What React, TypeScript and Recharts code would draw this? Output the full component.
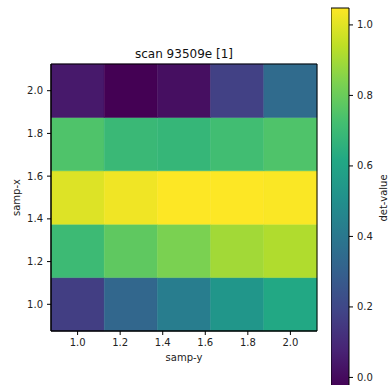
import { ScatterChart, Scatter, XAxis, YAxis, ReferenceArea } from 'recharts';

// cell centres, samp-y across and samp-x up
const sampY = [1.0, 1.25, 1.5, 1.75, 2.0];
const sampX = [1.0, 1.25, 1.5, 1.75, 2.0];
const halfStep = 0.125;

// det-value rows, one per samp-x (bottom to top)
const row100 = [0.164, 0.326, 0.423, 0.531, 0.617];
const row125 = [0.703, 0.779, 0.832, 0.897, 0.919];
const row150 = [0.994, 1.026, 1.048, 1.048, 1.043];
const row175 = [0.746, 0.692, 0.681, 0.714, 0.746];
const row200 = [0.045, -0.03, 0.013, 0.175, 0.347];
const rows = [row100, row125, row150, row175, row200];

const axisTicks = [1.0, 1.2, 1.4, 1.6, 1.8, 2.0];
const barTicks = [0.0, 0.2, 0.4, 0.6, 0.8, 1.0];

const viridis = [
  '#440154', '#482475', '#414487', '#355f8d', '#2a788e', '#21918c',
  '#22a884', '#44bf70', '#7ad151', '#bddf26', '#fde725',
];

const allVals = rows.flat();
const vmin = Math.min(...allVals);
const vmax = Math.max(...allVals);

const hex = (c: string) => [1, 3, 5].map((i) => parseInt(c.slice(i, i + 2), 16));

const colorOf = (v: number) => {
  const t = Math.max(0, Math.min(1, (v - vmin) / (vmax - vmin))) * (viridis.length - 1);
  const i = Math.min(Math.floor(t), viridis.length - 2);
  const f = t - i;
  const a = hex(viridis[i]);
  const b = hex(viridis[i + 1]);
  const m = a.map((c, k) => Math.round(c + (b[k] - c) * f));
  return `rgb(${m[0]},${m[1]},${m[2]})`;
};

const cells = rows.flatMap((row, ri) =>
  row.map((v, ci) => ({ x: sampY[ci], y: sampX[ri], v, color: colorOf(v) }))
);

// gradient runs top (vmax) to bottom (vmin), so the stops go in reverse
const barStops = [...viridis].reverse();

const font = '"DejaVu Sans", sans-serif';
const tickStyle = { fontSize: 10, fill: '#222', fontFamily: font };
const lo = 0.875;
const hi = 2.125;

export default function App() {
  return (
    <div
      style={{
        position: 'absolute',
        left: 0,
        top: 0,
        width: 388,
        height: 385,
        overflow: 'hidden',
        background: '#fff',
        fontFamily: font,
      }}
    >
      <div
        style={{
          position: 'absolute',
          left: 51,
          width: 266,
          top: 46,
          textAlign: 'center',
          fontSize: 12,
          color: '#111',
          lineHeight: '16px',
        }}
      >
        scan 93509e [1]
      </div>

      <div style={{ position: 'absolute', left: 0, top: 0 }}>
        <ScatterChart width={330} height={385} margin={{ top: 64, right: 13, bottom: 24, left: 11 }}>
          <XAxis
            type="number"
            dataKey="x"
            domain={[lo, hi]}
            ticks={axisTicks}
            tickFormatter={(v: number) => v.toFixed(1)}
            allowDataOverflow
            height={30}
            tickSize={4}
            tickMargin={4}
            tick={tickStyle}
            stroke="#000"
            label={{ value: 'samp-y', position: 'insideBottom', offset: 0, style: { fontSize: 10, fill: '#222', fontFamily: font } }}
          />
          <YAxis
            type="number"
            dataKey="y"
            domain={[lo, hi]}
            ticks={axisTicks}
            tickFormatter={(v: number) => v.toFixed(1)}
            allowDataOverflow
            width={40}
            tickSize={4}
            tickMargin={4}
            tick={tickStyle}
            stroke="#000"
            label={{
              value: 'samp-x',
              angle: -90,
              position: 'insideLeft',
              offset: 5,
              style: { textAnchor: 'middle', fontSize: 10, fill: '#222', fontFamily: font },
            }}
          />
          {cells.map((c, i) => (
            <ReferenceArea
              key={i}
              x1={c.x - halfStep}
              x2={c.x + halfStep}
              y1={c.y - halfStep}
              y2={c.y + halfStep}
              fill={c.color}
              fillOpacity={1}
              stroke={c.color}
              strokeWidth={0.5}
            />
          ))}
          <ReferenceArea x1={lo} x2={hi} y1={lo} y2={hi} fill="none" stroke="#000" strokeWidth={1} />
          <Scatter data={cells} fill="none" isAnimationActive={false} legendType="none" />
        </ScatterChart>
      </div>

      <div style={{ position: 'absolute', left: 331, top: 0 }}>
        <ScatterChart width={57} height={390} margin={{ top: 8, right: 0, bottom: 2, left: 0 }}>
          <defs>
            <linearGradient id="viridisBar" x1="0" y1="0" x2="0" y2="1">
              {barStops.map((c, i) => (
                <stop key={i} offset={`${(i * 100) / (barStops.length - 1)}%`} stopColor={c} />
              ))}
            </linearGradient>
          </defs>
          <XAxis type="number" dataKey="x" domain={[0, 1]} hide allowDataOverflow />
          <YAxis
            type="number"
            dataKey="y"
            orientation="right"
            domain={[vmin, vmax]}
            ticks={barTicks}
            tickFormatter={(v: number) => v.toFixed(1)}
            allowDataOverflow
            width={39}
            tickSize={4}
            tickMargin={4}
            tick={tickStyle}
            axisLine={false}
            stroke="#000"
            label={{
              value: 'det-value',
              angle: -90,
              position: 'insideRight',
              offset: 5,
              style: { textAnchor: 'middle', fontSize: 10, fill: '#222', fontFamily: font },
            }}
          />
          <ReferenceArea
            x1={0}
            x2={1}
            y1={vmin}
            y2={vmax}
            fill="url(#viridisBar)"
            fillOpacity={1}
            stroke="#000"
            strokeWidth={1}
          />
          <Scatter data={[{ x: 0.5, y: 0.5 }]} fill="none" isAnimationActive={false} legendType="none" />
        </ScatterChart>
      </div>
    </div>
  );
}
